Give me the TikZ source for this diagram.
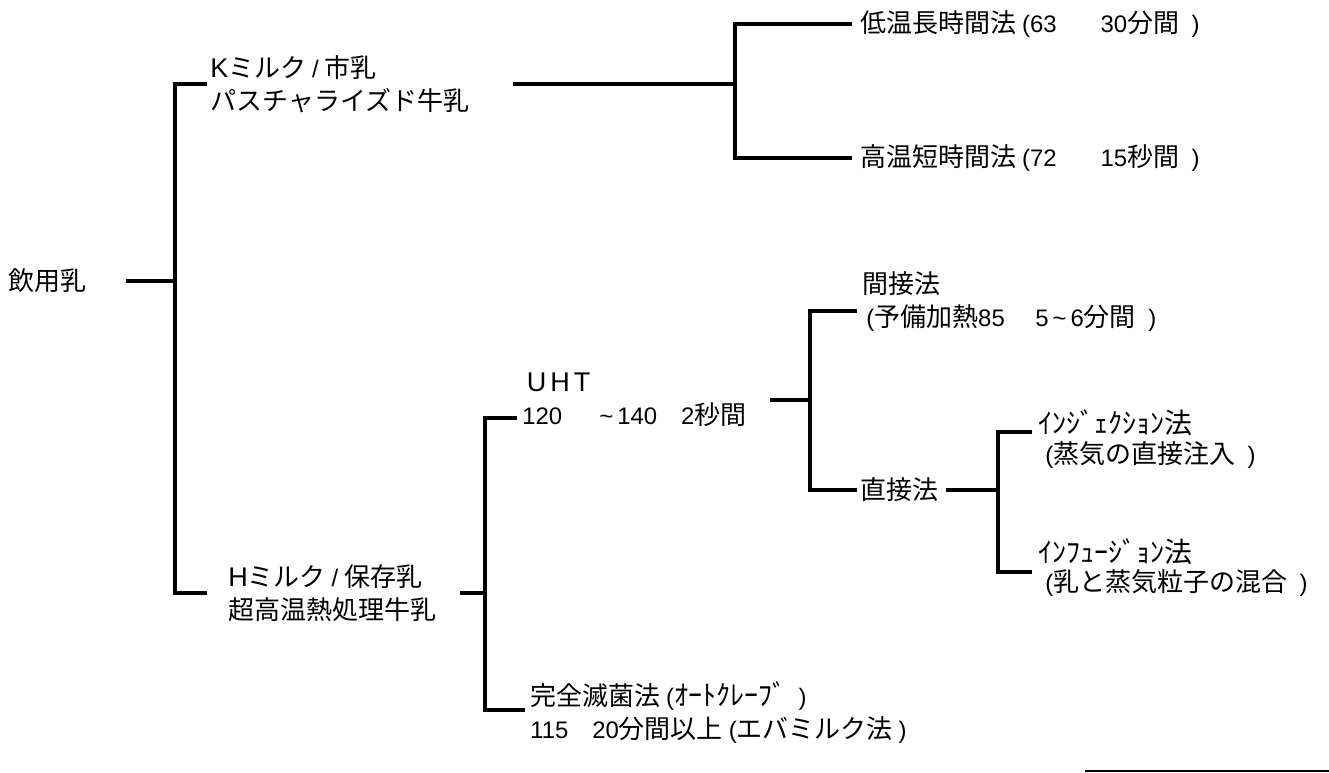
\documentclass[tikz,border=0pt]{standalone}
\usepackage{fontspec}
\setmainfont{Noto Sans CJK JP}
\newfontfamily\latfont{Liberation Sans}[Scale=0.92]
\newfontfamily\capfont{Liberation Sans}[Scale=1.04]
\newcommand{\ltn}[1]{{\latfont #1}}
\newcommand{\cpt}[1]{{\capfont #1}}
\begin{document}
\begin{tikzpicture}[x=0.75pt,y=-0.75pt,
  lbl/.style={anchor=west,inner sep=0pt,align=left,font=\fontsize{19.5}{24.75}\selectfont},
  hk/.style={anchor=west,inner sep=0pt,font=\fontsize{21}{24}\selectfont},
  wire/.style={line width=2.6pt,line cap=rect}]
\useasboundingbox (0,0) rectangle (1329,773);
% nodes
\node[lbl] (root) at (8,281) {飲用乳};
\node[lbl] (K) at (210,84) {\cpt{K}ミルク \ltn{/} 市乳\\パスチャライズド牛乳};
\node[lbl] (low) at (860,24) {低温長時間法 \ltn{(63\quad\ \ \ 30}分間 \ltn{\ )}};
\node[lbl] (high) at (860,158) {高温短時間法 \ltn{(72\quad\ \ \ 15}秒間 \ltn{\ )}};
\node[lbl] (H) at (228,593) {\cpt{H}ミルク \ltn{/} 保存乳\\超高温熱処理牛乳};
\node[lbl] (UHT) at (522,400) {\cpt{\,U\kern3pt H\kern3pt T}\\\ltn{120\quad\ \ \textasciitilde\,140\quad 2}秒間};
\node[lbl] (indirect) at (862,302) {間接法\\\ltn{\,(}予備加熱\ltn{85\quad\ 5\,\textasciitilde\,6}分間 \ltn{\ )}};
\node[lbl] (direct) at (860,490) {直接法};
\node[hk] (inj) at (1038,423) {ｲﾝｼﾞｪｸｼｮﾝ法};
\node[lbl] (injd) at (1045,455) {\ltn{(}蒸気の直接注入 \ltn{\ )}};
\node[hk] (inf) at (1038,552) {ｲﾝﾌｭｰｼﾞｮﾝ法};
\node[lbl] (infd) at (1045,583) {\ltn{(}乳と蒸気粒子の混合 \ltn{\ )}};
\node[lbl] (auto) at (530,713) {完全滅菌法 \ltn{(}{\fontsize{21}{24}\selectfont ｵｰﾄｸﾚｰﾌﾞ} \ltn{\ )}\\\ltn{115\quad 20}分間以上 \ltn{(}エバミルク法 \ltn{)}};
% junction coordinates
\coordinate (r0) at (128,281);
\coordinate (j0) at (175,281);
\coordinate (j0t) at (175,84);
\coordinate (j0b) at (175,593);
\coordinate (Kin) at (205,84);
\coordinate (Hin) at (205,593);
\coordinate (Kout) at (515,84);
\coordinate (j1) at (735,84);
\coordinate (j1t) at (735,24);
\coordinate (j1b) at (735,158);
\coordinate (lowin) at (850,24);
\coordinate (highin) at (850,158);
\coordinate (Hout) at (462,593);
\coordinate (j2) at (485,593);
\coordinate (j2t) at (485,418);
\coordinate (j2b) at (485,710);
\coordinate (UHTin) at (515,418);
\coordinate (autoin) at (523,710);
\coordinate (UHTout) at (772,400);
\coordinate (j3) at (810,400);
\coordinate (j3t) at (810,311);
\coordinate (j3b) at (810,490);
\coordinate (indin) at (855,311);
\coordinate (dirin) at (855,490);
\coordinate (dirout) at (948,490);
\coordinate (j4) at (998,490);
\coordinate (j4t) at (998,432);
\coordinate (j4b) at (998,572);
\coordinate (injin) at (1030,432);
\coordinate (infin) at (1030,572);
\coordinate (s1) at (1085,771);
\coordinate (s2) at (1329,771);
% connectors
\draw[wire] (r0) -- (j0);
\draw[wire] (Kin) -- (j0t) -- (j0b) -- (Hin);
\draw[wire] (Kout) -- (j1);
\draw[wire] (lowin) -- (j1t) -- (j1b) -- (highin);
\draw[wire] (Hout) -- (j2);
\draw[wire] (UHTin) -- (j2t) -- (j2b) -- (autoin);
\draw[wire] (UHTout) -- (j3);
\draw[wire] (indin) -- (j3t) -- (j3b) -- (dirin);
\draw[wire] (dirout) -- (j4);
\draw[wire] (injin) -- (j4t) -- (j4b) -- (infin);
\draw[line width=1.6pt] (s1) -- (s2);
\end{tikzpicture}
\end{document}
